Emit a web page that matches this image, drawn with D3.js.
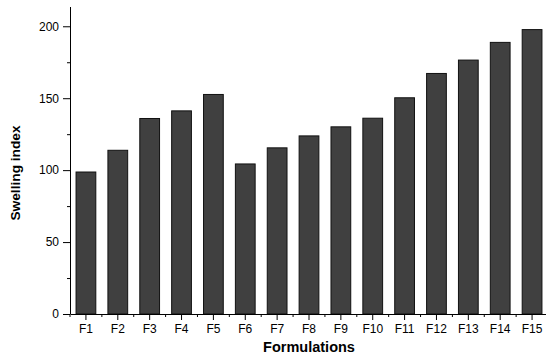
<!DOCTYPE html>
<html>
<head>
<meta charset="utf-8">
<script src="https://cdnjs.cloudflare.com/ajax/libs/d3/7.8.5/d3.min.js"></script>
<style>
  body { margin: 0; background: #fff; }
  .axis text { font: 12px "Liberation Sans", Arial, sans-serif; fill: #000; }
  .axis path, .axis line { stroke: #000; }
  .title { font-family: "Liberation Sans", Arial, sans-serif; font-weight: bold; fill: #000; }
</style>
</head>
<body>
<div class="content"></div>
<script>
  var formulations = ["F1", "F2", "F3", "F4", "F5", "F6", "F7", "F8", "F9", "F10", "F11", "F12", "F13", "F14", "F15"];
  var swelling = [98.7, 113.8, 135.9, 141.2, 152.6, 104.3, 115.5, 123.8, 130.1, 136.1, 150.3, 167.2, 176.5, 188.8, 197.7];
  var yTicks = [0, 50, 100, 150, 200];
  var yMinor = [25, 75, 125, 175];

  var width = 546, height = 356;
  var margin = {top: 7, right: -2, bottom: 42, left: 70};
  var innerW = width - margin.left - margin.right,
      innerH = height - margin.top - margin.bottom;

  var svg = d3.select(".content").append("svg")
      .attr("width", width)
      .attr("height", height);

  var g = svg.append("g")
      .attr("transform", "translate(" + margin.left + "," + margin.top + ")");

  var x = d3.scaleBand()
      .domain(formulations)
      .range([0, innerW])
      .paddingInner(0.38)
      .paddingOuter(0.19);

  var y = d3.scaleLinear()
      .domain([0, 213.4])
      .range([innerH, 0]);

  // bars
  g.selectAll(".bar")
      .data(swelling)
      .enter().append("rect")
      .attr("class", "bar")
      .attr("x", function(d, i) { return x(formulations[i]); })
      .attr("y", function(d) { return y(d); })
      .attr("width", x.bandwidth())
      .attr("height", function(d) { return innerH - y(d); })
      .style("fill", "#404040")
      .style("stroke", "#111")
      .style("stroke-width", 1);

  // y axis
  var yAxis = g.append("g")
      .attr("class", "axis")
      .call(d3.axisLeft(y).tickValues(yTicks).tickSize(7).tickPadding(4).tickSizeOuter(0));
  yAxis.select(".domain").attr("d", "M0.5,0V" + innerH);
  yAxis.selectAll(".minor")
      .data(yMinor)
      .enter().append("line")
      .attr("class", "minor")
      .attr("x1", -3).attr("x2", 0)
      .attr("y1", function(d) { return y(d) + 0.5; })
      .attr("y2", function(d) { return y(d) + 0.5; })
      .style("stroke", "#000");

  // x axis
  var xAxis = g.append("g")
      .attr("class", "axis")
      .attr("transform", "translate(0," + innerH + ")")
      .call(d3.axisBottom(x).tickSize(6).tickPadding(4).tickSizeOuter(0));
  var step = x.step();
  xAxis.selectAll(".minor")
      .data(formulations)
      .enter().append("line")
      .attr("class", "minor")
      .attr("x1", function(d) { return x(d) + x.bandwidth() / 2 + step / 2; })
      .attr("x2", function(d) { return x(d) + x.bandwidth() / 2 + step / 2; })
      .attr("y1", 0).attr("y2", 3)
      .style("stroke", "#000");
  xAxis.append("line")
      .attr("x1", 0).attr("x2", 0).attr("y1", 0).attr("y2", 3)
      .style("stroke", "#000");

  // axis titles
  svg.append("text")
      .attr("class", "title")
      .attr("text-anchor", "middle")
      .style("font-size", "13.7px")
      .attr("transform", "translate(20,173) rotate(-90)")
      .text("Swelling index");

  svg.append("text")
      .attr("class", "title")
      .attr("text-anchor", "middle")
      .style("font-size", "14.5px")
      .attr("x", 309)
      .attr("y", 352)
      .text("Formulations");
</script>
</body>
</html>
